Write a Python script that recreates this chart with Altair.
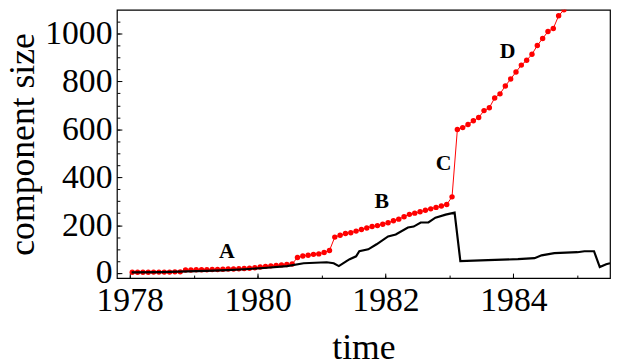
import altair as alt
import pandas as pd

# red series: monthly values (component size), starting early 1978
red_start = 1978.04
red_size = [3, 3, 3, 3, 4, 4, 4, 4, 5, 5,
            13, 13, 14, 14, 14, 15, 15, 16, 17, 17,
            18, 19, 20, 22, 25, 28, 30, 32, 34, 36, 38,
            65, 71, 74, 78, 80, 86, 94,
            150, 158, 165, 168, 175, 182, 188, 194, 198, 204,
            210, 218, 225, 235, 245, 250, 256, 262, 268, 274,
            280, 286, 318,
            599, 607, 620, 636, 649, 678, 690, 731, 748, 781,
            810, 839, 868, 888, 913, 950, 979, 1008, 1021, 1074,
            1099, 1112, 1140]
red_time = [red_start + i / 12 for i in range(len(red_size))]

# black series
black_time = [1978.03, 1978.5, 1978.9, 1979.2, 1979.53, 1979.8, 1980.1, 1980.46, 1980.72,
              1981.08, 1981.19, 1981.27, 1981.39, 1981.44, 1981.54, 1981.59, 1981.73,
              1981.86, 1982.04, 1982.16, 1982.35, 1982.44, 1982.55, 1982.67, 1982.78,
              1982.94, 1983.08, 1983.17, 1983.6, 1984.07, 1984.33, 1984.44, 1984.64,
              1985.0, 1985.11, 1985.26, 1985.35, 1985.45, 1985.51]
black_size = [3, 4, 7, 9, 12, 16, 21, 29, 41,
              45, 41, 29, 50, 58, 70, 91, 99,
              120, 153, 161, 190, 194, 211, 211, 231,
              244, 252, 50, 54, 58, 62, 74, 83,
              87, 91, 91, 25, 37, 41]

# annotations
label_text = ["A", "B", "C", "D"]
label_time = [1979.52, 1981.94, 1982.91, 1983.91]
label_size = [91, 301, 459, 926]

x_ticks = [1978, 1980, 1982, 1984]
x_minor = [1978, 1979, 1980, 1981, 1982, 1983, 1984, 1985]
y_ticks = [0, 200, 400, 600, 800, 1000]
y_minor = list(range(0, 1101, 50))

X_DOM = [1977.8, 1985.51]
Y_DOM = [-21, 1099]
FONT = "Liberation Serif"

red_df = pd.DataFrame({"t": red_time, "v": red_size})
black_df = pd.DataFrame({"t": black_time, "v": black_size})
lab_df = pd.DataFrame({"t": label_time, "v": label_size, "txt": label_text})

xs = alt.Scale(domain=X_DOM, nice=False, zero=False)
ys = alt.Scale(domain=Y_DOM, nice=False, zero=False)

x_main = alt.X("t:Q", scale=xs, axis=alt.Axis(
    values=x_ticks, format="d", tickSize=5, offset=-5, domain=False, grid=False,
    labelFont=FONT, labelFontSize=34, labelPadding=6, labelColor="black",
    labelFlush=False, labelOverlap=False,
    tickColor="black", tickWidth=1,
    title="time", titleFont=FONT, titleFontSize=36, titleFontWeight="normal",
    titleColor="black", titlePadding=13, orient="bottom"))
y_main = alt.Y("v:Q", scale=ys, axis=alt.Axis(
    values=y_ticks, format="d", tickSize=5, offset=-5, domain=False, grid=False,
    labelFont=FONT, labelFontSize=34, labelPadding=5, labelColor="black",
    labelFlush=False, labelOverlap=False,
    tickColor="black", tickWidth=1,
    title="component size", titleFont=FONT, titleFontSize=36, titleFontWeight="normal",
    titleColor="black", titlePadding=3, orient="left"))

red_line = alt.Chart(red_df).mark_line(color="#ff0000", strokeWidth=1, clip=True).encode(x=x_main, y=y_main)
red_pts = alt.Chart(red_df).mark_circle(color="#ff0000", size=30, opacity=1, clip=True).encode(x="t:Q", y="v:Q")
black_line = alt.Chart(black_df).mark_line(color="black", strokeWidth=2.2, clip=True).encode(x="t:Q", y="v:Q")
labels = alt.Chart(lab_df).mark_text(font=FONT, fontSize=22, fontWeight="bold", color="black",
                                     align="center", baseline="middle").encode(x="t:Q", y="v:Q", text="txt:N")

main = alt.layer(red_line, red_pts, black_line, labels)

minor = alt.Chart(black_df).mark_line(opacity=0).encode(
    x=alt.X("t:Q", scale=xs, axis=alt.Axis(values=x_minor, tickSize=3, offset=-3, labels=False,
                                           domain=False, grid=False, title=None, tickColor="black",
                                           orient="bottom")),
    y=alt.Y("v:Q", scale=ys, axis=alt.Axis(values=y_minor, tickSize=3, offset=-3, labels=False,
                                           domain=False, grid=False, title=None, tickColor="black",
                                           orient="left")))

chart = alt.layer(main, minor).resolve_scale(x="independent", y="independent").properties(
    width=498, height=271,
    autosize=alt.AutoSizeParams(type="none"),
    padding={"left": 110, "top": 0, "right": 1, "bottom": 84},
    background="white",
).configure_view(stroke="black", strokeWidth=1.2)

chart.save("out.html", embed_options={"renderer": "svg", "actions": False})
